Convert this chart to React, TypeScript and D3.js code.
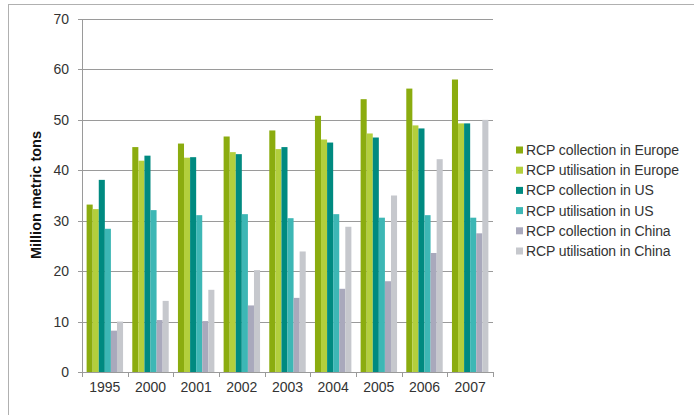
import React from "react";
import * as d3 from "d3";

const years = ["1995", "2000", "2001", "2002", "2003", "2004", "2005", "2006", "2007"];
const seriesNames = [
  "RCP collection in Europe",
  "RCP utilisation in Europe",
  "RCP collection in US",
  "RCP utilisation in US",
  "RCP collection in China",
  "RCP utilisation in China",
];
const collectionEurope = [33.2, 44.6, 45.3, 46.7, 47.9, 50.8, 54.1, 56.2, 58.0];
const utilisationEurope = [32.3, 41.9, 42.5, 43.6, 44.2, 46.1, 47.3, 48.9, 49.3];
const collectionUS = [38.1, 42.9, 42.6, 43.2, 44.6, 45.5, 46.5, 48.3, 49.3];
const utilisationUS = [28.4, 32.1, 31.1, 31.3, 30.5, 31.3, 30.6, 31.1, 30.6];
const collectionChina = [8.2, 10.3, 10.1, 13.2, 14.7, 16.5, 18.0, 23.6, 27.5];
const utilisationChina = [10.0, 14.1, 16.3, 20.2, 23.9, 28.8, 35.0, 42.2, 50.0];
const yTicks = [0, 10, 20, 30, 40, 50, 60, 70];

const seriesValues = [
  collectionEurope,
  utilisationEurope,
  collectionUS,
  utilisationUS,
  collectionChina,
  utilisationChina,
];
const colors = ["#8BAC0F", "#B3CF3C", "#008A80", "#3DB7B5", "#A9A9BC", "#C6C8CD"];

const W = 694;
const H = 415;
const left = 82;
const right = 493;
const top = 19;
const bottom = 372;

export default function App() {
  const x = d3.scaleBand<string>().domain(years).range([left, right]).paddingInner(0).paddingOuter(0);
  const xi = d3
    .scaleBand<number>()
    .domain(d3.range(seriesNames.length))
    .range([0, x.bandwidth()])
    .paddingInner(0)
    .paddingOuter(0.76);
  const y = d3.scaleLinear().domain([0, 70]).range([bottom, top]);
  const font = "'Liberation Sans', Arial, sans-serif";
  const legendY = d3.scalePoint<number>().domain(d3.range(seriesNames.length)).range([150, 251]);

  return (
    <svg
      width={W}
      height={H}
      style={{ position: "absolute", left: 0, top: 0, background: "#fff" }}
      fontFamily={font}
    >
      <rect x={0} y={0} width={W} height={H} fill="#fff" />
      <line x1={8.5} y1={4} x2={8.5} y2={H} stroke="#b0b0b0" strokeWidth={1} />
      <line x1={8} y1={4.5} x2={W} y2={4.5} stroke="#b0b0b0" strokeWidth={1} />
      {yTicks.map((t) => (
        <g key={t}>
          {t > 0 && (
            <line x1={left} x2={right} y1={Math.round(y(t)) + 0.5} y2={Math.round(y(t)) + 0.5} stroke="#9a9a9a" />
          )}
          <line x1={left - 4} x2={left} y1={Math.round(y(t)) + 0.5} y2={Math.round(y(t)) + 0.5} stroke="#9a9a9a" />
          <text x={69} y={y(t) + 5} textAnchor="end" fontSize={14} fill="#333">
            {t}
          </text>
        </g>
      ))}
      {years.map((yr, i) => (
        <g key={yr}>
          {seriesValues.map((vals, s) => (
            <rect
              key={s}
              x={(x(yr) as number) + (xi(s) as number)}
              y={y(vals[i])}
              width={xi.bandwidth()}
              height={bottom - y(vals[i])}
              fill={colors[s]}
            />
          ))}
          <text x={(x(yr) as number) + x.bandwidth() / 2} y={392} textAnchor="middle" fontSize={14} fill="#333">
            {yr}
          </text>
        </g>
      ))}
      <line x1={left + 0.5} x2={left + 0.5} y1={top} y2={bottom} stroke="#9a9a9a" />
      <line x1={left} x2={right} y1={bottom + 0.5} y2={bottom + 0.5} stroke="#9a9a9a" />
      {[...years.map((yr) => x(yr) as number), right].map((xx, i) => (
        <line key={i} x1={Math.round(xx) + 0.5} x2={Math.round(xx) + 0.5} y1={bottom} y2={bottom + 5} stroke="#9a9a9a" />
      ))}
      <text
        transform={`translate(41, 195) rotate(-90)`}
        textAnchor="middle"
        fontSize={14.5}
        fontWeight="bold"
        fill="#111"
      >
        Million metric tons
      </text>
      {seriesNames.map((name, s) => (
        <g key={name}>
          <rect x={516} y={(legendY(s) as number) - 3.5} width={7} height={7} fill={colors[s]} />
          <text x={526} y={(legendY(s) as number) + 5} fontSize={14} fill="#333" letterSpacing={-0.1}>
            {name}
          </text>
        </g>
      ))}
    </svg>
  );
}
